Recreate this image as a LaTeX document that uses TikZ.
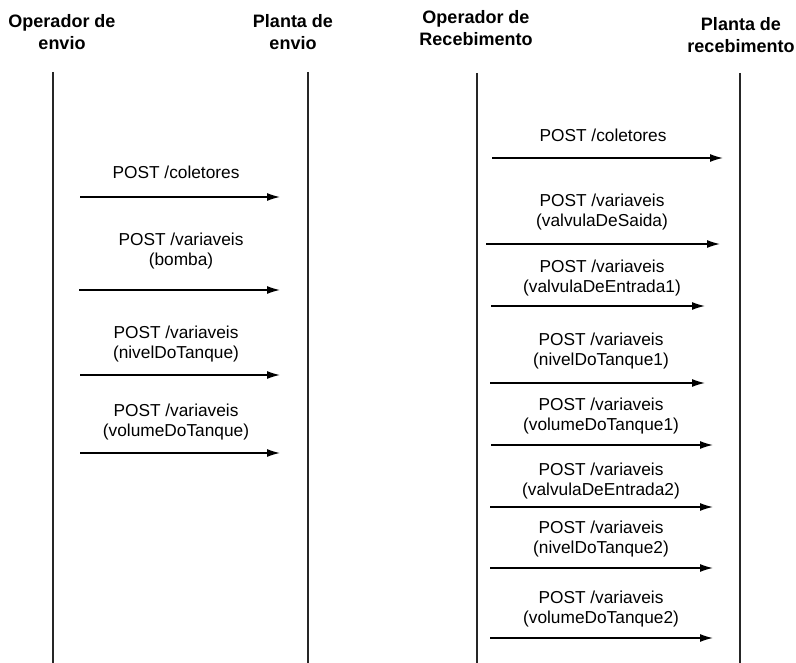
\documentclass[tikz,border=0pt]{standalone}
\usepackage{fontspec}
\setmainfont{Liberation Sans}
\usetikzlibrary{arrows.meta}
\begin{document}
\begin{tikzpicture}[x=1pt,y=-1pt,
  lifeline/.style={line width=1.6pt, draw=black!85},
  msg/.style={line width=1.3pt, -{Latex[length=13pt,width=8pt]}},
  lbl/.style={align=center, font=\fontsize{17.3}{20}\selectfont, inner sep=0pt, anchor=base},
  head/.style={align=center, font=\fontsize{18}{22}\selectfont\bfseries, inner sep=0pt, anchor=base}]
\useasboundingbox (0,0) rectangle (796,663);

% participant headings (anchored at the baseline of their last line)
\node[head] (hOpE) at (62,50)  {Operador de\\envio};
\node[head] (hPlE) at (293,50) {Planta de\\envio};
\node[head] (hOpR) at (476,46) {Operador de\\Recebimento};
\node[head] (hPlR) at (741,53) {Planta de\\recebimento};

% lifelines
\coordinate (opE1) at (53,72);  \coordinate (opE2) at (53,663);
\coordinate (plE1) at (308,72); \coordinate (plE2) at (308,663);
\coordinate (opR1) at (477,73); \coordinate (opR2) at (477,663);
\coordinate (plR1) at (740,73); \coordinate (plR2) at (740,663);
\draw[lifeline] (opE1) -- (opE2);
\draw[lifeline] (plE1) -- (plE2);
\draw[lifeline] (opR1) -- (opR2);
\draw[lifeline] (plR1) -- (plR2);

% sending side messages
\node[lbl] (l1) at (176,179) {POST /coletores};
\coordinate (s1) at (80,197);  \coordinate (e1) at (280,197);
\draw[msg] (s1) -- (e1);

\node[lbl] (l2) at (181,266) {POST /variaveis\\(bomba)};
\coordinate (s2) at (79,290);  \coordinate (e2) at (280,290);
\draw[msg] (s2) -- (e2);

\node[lbl] (l3) at (176,359) {POST /variaveis\\(nivelDoTanque)};
\coordinate (s3) at (80,375);  \coordinate (e3) at (280,375);
\draw[msg] (s3) -- (e3);

\node[lbl] (l4) at (176,436) {POST /variaveis\\(volumeDoTanque)};
\coordinate (s4) at (80,453);  \coordinate (e4) at (280,453);
\draw[msg] (s4) -- (e4);

% receiving side messages
\node[lbl] (r1) at (603,142) {POST /coletores};
\coordinate (rs1) at (492,158); \coordinate (re1) at (723,158);
\draw[msg] (rs1) -- (re1);

\node[lbl] (r2) at (602,227) {POST /variaveis\\(valvulaDeSaida)};
\coordinate (rs2) at (486,244); \coordinate (re2) at (720,244);
\draw[msg] (rs2) -- (re2);

\node[lbl] (r3) at (602,293) {POST /variaveis\\(valvulaDeEntrada1)};
\coordinate (rs3) at (491,306); \coordinate (re3) at (705,306);
\draw[msg] (rs3) -- (re3);

\node[lbl] (r4) at (601,366) {POST /variaveis\\(nivelDoTanque1)};
\coordinate (rs4) at (490,383); \coordinate (re4) at (705,383);
\draw[msg] (rs4) -- (re4);

\node[lbl] (r5) at (601,430) {POST /variaveis\\(volumeDoTanque1)};
\coordinate (rs5) at (491,445); \coordinate (re5) at (713,445);
\draw[msg] (rs5) -- (re5);

\node[lbl] (r6) at (601,495) {POST /variaveis\\(valvulaDeEntrada2)};
\coordinate (rs6) at (490,507); \coordinate (re6) at (713,507);
\draw[msg] (rs6) -- (re6);

\node[lbl] (r7) at (601,553) {POST /variaveis\\(nivelDoTanque2)};
\coordinate (rs7) at (490,568); \coordinate (re7) at (713,568);
\draw[msg] (rs7) -- (re7);

\node[lbl] (r8) at (601,623) {POST /variaveis\\(volumeDoTanque2)};
\coordinate (rs8) at (490,638); \coordinate (re8) at (713,638);
\draw[msg] (rs8) -- (re8);
\end{tikzpicture}
\end{document}
